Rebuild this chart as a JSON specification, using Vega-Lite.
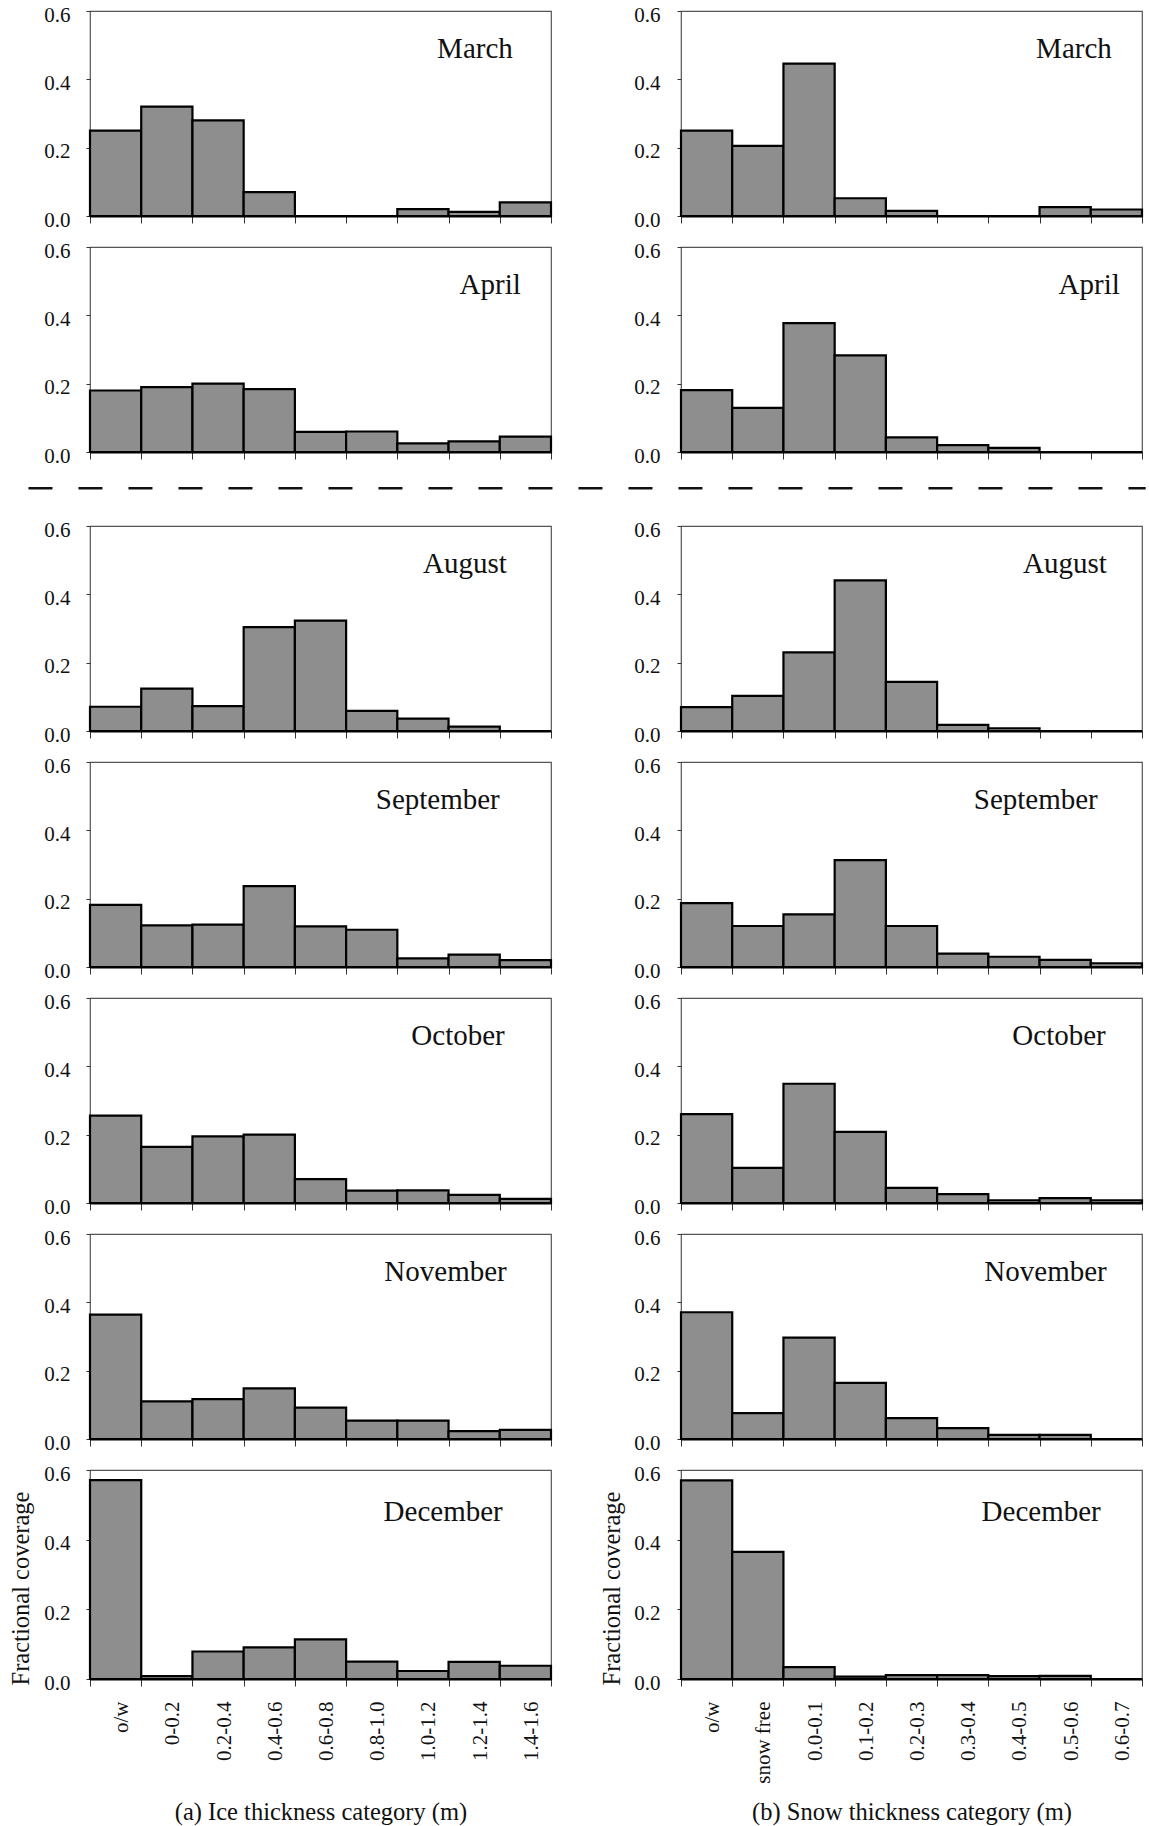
{
"$schema": "https://vega.github.io/schema/vega-lite/v6.json",
"padding": {"left": 8, "top": 3, "right": 2, "bottom": 2},
"background": "white",
"config": {
 "font": "Liberation Serif",
 "view": {"stroke": "#555", "strokeWidth": 1.2},
 "axis": {"labelFont": "Liberation Serif", "labelFontSize": 21, "labelColor": "#111", "titleFont": "Liberation Serif", "titleFontWeight": "normal", "titleColor": "#111", "grid": false, "tickColor": "#333"},
 "text": {"font": "Liberation Serif", "fontSize": 29, "color": "#111"}
},
"datasets": {"d": [
{"var":"ice","month":"March","cat":"o/w","frac":0.25},
{"var":"ice","month":"March","cat":"0-0.2","frac":0.32},
{"var":"ice","month":"March","cat":"0.2-0.4","frac":0.28},
{"var":"ice","month":"March","cat":"0.4-0.6","frac":0.07},
{"var":"ice","month":"March","cat":"0.6-0.8","frac":0},
{"var":"ice","month":"March","cat":"0.8-1.0","frac":0},
{"var":"ice","month":"March","cat":"1.0-1.2","frac":0.02},
{"var":"ice","month":"March","cat":"1.2-1.4","frac":0.012},
{"var":"ice","month":"March","cat":"1.4-1.6","frac":0.04},
{"var":"ice","month":"April","cat":"o/w","frac":0.18},
{"var":"ice","month":"April","cat":"0-0.2","frac":0.19},
{"var":"ice","month":"April","cat":"0.2-0.4","frac":0.2},
{"var":"ice","month":"April","cat":"0.4-0.6","frac":0.184},
{"var":"ice","month":"April","cat":"0.6-0.8","frac":0.059},
{"var":"ice","month":"April","cat":"0.8-1.0","frac":0.06},
{"var":"ice","month":"April","cat":"1.0-1.2","frac":0.025},
{"var":"ice","month":"April","cat":"1.2-1.4","frac":0.031},
{"var":"ice","month":"April","cat":"1.4-1.6","frac":0.045},
{"var":"ice","month":"August","cat":"o/w","frac":0.071},
{"var":"ice","month":"August","cat":"0-0.2","frac":0.124},
{"var":"ice","month":"August","cat":"0.2-0.4","frac":0.073},
{"var":"ice","month":"August","cat":"0.4-0.6","frac":0.304},
{"var":"ice","month":"August","cat":"0.6-0.8","frac":0.323},
{"var":"ice","month":"August","cat":"0.8-1.0","frac":0.059},
{"var":"ice","month":"August","cat":"1.0-1.2","frac":0.036},
{"var":"ice","month":"August","cat":"1.2-1.4","frac":0.013},
{"var":"ice","month":"August","cat":"1.4-1.6","frac":0},
{"var":"ice","month":"September","cat":"o/w","frac":0.182},
{"var":"ice","month":"September","cat":"0-0.2","frac":0.122},
{"var":"ice","month":"September","cat":"0.2-0.4","frac":0.124},
{"var":"ice","month":"September","cat":"0.4-0.6","frac":0.237},
{"var":"ice","month":"September","cat":"0.6-0.8","frac":0.119},
{"var":"ice","month":"September","cat":"0.8-1.0","frac":0.109},
{"var":"ice","month":"September","cat":"1.0-1.2","frac":0.025},
{"var":"ice","month":"September","cat":"1.2-1.4","frac":0.036},
{"var":"ice","month":"September","cat":"1.4-1.6","frac":0.02},
{"var":"ice","month":"October","cat":"o/w","frac":0.256},
{"var":"ice","month":"October","cat":"0-0.2","frac":0.164},
{"var":"ice","month":"October","cat":"0.2-0.4","frac":0.195},
{"var":"ice","month":"October","cat":"0.4-0.6","frac":0.2},
{"var":"ice","month":"October","cat":"0.6-0.8","frac":0.07},
{"var":"ice","month":"October","cat":"0.8-1.0","frac":0.036},
{"var":"ice","month":"October","cat":"1.0-1.2","frac":0.037},
{"var":"ice","month":"October","cat":"1.2-1.4","frac":0.024},
{"var":"ice","month":"October","cat":"1.4-1.6","frac":0.012},
{"var":"ice","month":"November","cat":"o/w","frac":0.364},
{"var":"ice","month":"November","cat":"0-0.2","frac":0.11},
{"var":"ice","month":"November","cat":"0.2-0.4","frac":0.117},
{"var":"ice","month":"November","cat":"0.4-0.6","frac":0.148},
{"var":"ice","month":"November","cat":"0.6-0.8","frac":0.092},
{"var":"ice","month":"November","cat":"0.8-1.0","frac":0.054},
{"var":"ice","month":"November","cat":"1.0-1.2","frac":0.054},
{"var":"ice","month":"November","cat":"1.2-1.4","frac":0.023},
{"var":"ice","month":"November","cat":"1.4-1.6","frac":0.027},
{"var":"ice","month":"December","cat":"o/w","frac":0.571},
{"var":"ice","month":"December","cat":"0-0.2","frac":0.008},
{"var":"ice","month":"December","cat":"0.2-0.4","frac":0.079},
{"var":"ice","month":"December","cat":"0.4-0.6","frac":0.091},
{"var":"ice","month":"December","cat":"0.6-0.8","frac":0.114},
{"var":"ice","month":"December","cat":"0.8-1.0","frac":0.05},
{"var":"ice","month":"December","cat":"1.0-1.2","frac":0.023},
{"var":"ice","month":"December","cat":"1.2-1.4","frac":0.049},
{"var":"ice","month":"December","cat":"1.4-1.6","frac":0.038},
{"var":"snow","month":"March","cat":"o/w","frac":0.25},
{"var":"snow","month":"March","cat":"snow free","frac":0.205},
{"var":"snow","month":"March","cat":"0.0-0.1","frac":0.446},
{"var":"snow","month":"March","cat":"0.1-0.2","frac":0.052},
{"var":"snow","month":"March","cat":"0.2-0.3","frac":0.015},
{"var":"snow","month":"March","cat":"0.3-0.4","frac":0},
{"var":"snow","month":"March","cat":"0.4-0.5","frac":0},
{"var":"snow","month":"March","cat":"0.5-0.6","frac":0.026},
{"var":"snow","month":"March","cat":"0.6-0.7","frac":0.019},
{"var":"snow","month":"April","cat":"o/w","frac":0.181},
{"var":"snow","month":"April","cat":"snow free","frac":0.129},
{"var":"snow","month":"April","cat":"0.0-0.1","frac":0.377},
{"var":"snow","month":"April","cat":"0.1-0.2","frac":0.283},
{"var":"snow","month":"April","cat":"0.2-0.3","frac":0.043},
{"var":"snow","month":"April","cat":"0.3-0.4","frac":0.02},
{"var":"snow","month":"April","cat":"0.4-0.5","frac":0.012},
{"var":"snow","month":"April","cat":"0.5-0.6","frac":0},
{"var":"snow","month":"April","cat":"0.6-0.7","frac":0},
{"var":"snow","month":"August","cat":"o/w","frac":0.07},
{"var":"snow","month":"August","cat":"snow free","frac":0.103},
{"var":"snow","month":"August","cat":"0.0-0.1","frac":0.23},
{"var":"snow","month":"August","cat":"0.1-0.2","frac":0.441},
{"var":"snow","month":"August","cat":"0.2-0.3","frac":0.144},
{"var":"snow","month":"August","cat":"0.3-0.4","frac":0.018},
{"var":"snow","month":"August","cat":"0.4-0.5","frac":0.008},
{"var":"snow","month":"August","cat":"0.5-0.6","frac":0},
{"var":"snow","month":"August","cat":"0.6-0.7","frac":0},
{"var":"snow","month":"September","cat":"o/w","frac":0.187},
{"var":"snow","month":"September","cat":"snow free","frac":0.12},
{"var":"snow","month":"September","cat":"0.0-0.1","frac":0.154},
{"var":"snow","month":"September","cat":"0.1-0.2","frac":0.313},
{"var":"snow","month":"September","cat":"0.2-0.3","frac":0.12},
{"var":"snow","month":"September","cat":"0.3-0.4","frac":0.039},
{"var":"snow","month":"September","cat":"0.4-0.5","frac":0.03},
{"var":"snow","month":"September","cat":"0.5-0.6","frac":0.021},
{"var":"snow","month":"September","cat":"0.6-0.7","frac":0.011},
{"var":"snow","month":"October","cat":"o/w","frac":0.26},
{"var":"snow","month":"October","cat":"snow free","frac":0.103},
{"var":"snow","month":"October","cat":"0.0-0.1","frac":0.349},
{"var":"snow","month":"October","cat":"0.1-0.2","frac":0.208},
{"var":"snow","month":"October","cat":"0.2-0.3","frac":0.044},
{"var":"snow","month":"October","cat":"0.3-0.4","frac":0.026},
{"var":"snow","month":"October","cat":"0.4-0.5","frac":0.008},
{"var":"snow","month":"October","cat":"0.5-0.6","frac":0.014},
{"var":"snow","month":"October","cat":"0.6-0.7","frac":0.008},
{"var":"snow","month":"November","cat":"o/w","frac":0.371},
{"var":"snow","month":"November","cat":"snow free","frac":0.076},
{"var":"snow","month":"November","cat":"0.0-0.1","frac":0.297},
{"var":"snow","month":"November","cat":"0.1-0.2","frac":0.164},
{"var":"snow","month":"November","cat":"0.2-0.3","frac":0.061},
{"var":"snow","month":"November","cat":"0.3-0.4","frac":0.032},
{"var":"snow","month":"November","cat":"0.4-0.5","frac":0.012},
{"var":"snow","month":"November","cat":"0.5-0.6","frac":0.012},
{"var":"snow","month":"November","cat":"0.6-0.7","frac":0},
{"var":"snow","month":"December","cat":"o/w","frac":0.57},
{"var":"snow","month":"December","cat":"snow free","frac":0.365},
{"var":"snow","month":"December","cat":"0.0-0.1","frac":0.034},
{"var":"snow","month":"December","cat":"0.1-0.2","frac":0.007},
{"var":"snow","month":"December","cat":"0.2-0.3","frac":0.011},
{"var":"snow","month":"December","cat":"0.3-0.4","frac":0.011},
{"var":"snow","month":"December","cat":"0.4-0.5","frac":0.008},
{"var":"snow","month":"December","cat":"0.5-0.6","frac":0.009},
{"var":"snow","month":"December","cat":"0.6-0.7","frac":0}
]},
"vconcat": [
{"hconcat": [
 {"width": 461, "height": 205, "layer": [
  {"data": {"name": "d"}, "transform": [{"filter": "datum.var === 'ice' && datum.month === 'March'"}],
   "mark": {"type": "bar", "fill": "#8e8e8e", "stroke": "#000", "strokeWidth": 2.2},
   "encoding": {"x": {"field": "cat", "type": "nominal", "sort": null, "scale": {"domain": ["o/w","0-0.2","0.2-0.4","0.4-0.6","0.6-0.8","0.8-1.0","1.0-1.2","1.2-1.4","1.4-1.6"], "padding": 0}, "axis": {"labels": false, "title": null, "tickBand": "extent", "tickSize": 7, "domainColor": "#000", "domainWidth": 2}},
    "y": {"field": "frac", "type": "quantitative", "scale": {"domain": [0, 0.6]}, "axis": {"values": [0,0.1,0.2,0.3,0.4,0.5,0.6], "format": ".1f", "labelExpr": "(datum.label === '0.1' || datum.label === '0.3' || datum.label === '0.5') ? '' : datum.label", "tickSize": 4, "labelPadding": 16, "labelOffset": 4, "domain": false, "title": null}}}},
  {"data": {"values": [{"label": "March"}]}, "mark": {"type": "text", "align": "right", "baseline": "middle", "dx": 13},
   "encoding": {"x": {"datum": "1.4-1.6", "type": "nominal", "bandPosition": 0, "scale": {"domain": ["o/w","0-0.2","0.2-0.4","0.4-0.6","0.6-0.8","0.8-1.0","1.0-1.2","1.2-1.4","1.4-1.6"], "padding": 0}}, "y": {"datum": 0.49, "type": "quantitative", "scale": {"domain": [0, 0.6]}}, "text": {"field": "label"}}}
 ]},
 {"width": 461, "height": 205, "layer": [
  {"data": {"name": "d"}, "transform": [{"filter": "datum.var === 'snow' && datum.month === 'March'"}],
   "mark": {"type": "bar", "fill": "#8e8e8e", "stroke": "#000", "strokeWidth": 2.2},
   "encoding": {"x": {"field": "cat", "type": "nominal", "sort": null, "scale": {"domain": ["o/w","snow free","0.0-0.1","0.1-0.2","0.2-0.3","0.3-0.4","0.4-0.5","0.5-0.6","0.6-0.7"], "padding": 0}, "axis": {"labels": false, "title": null, "tickBand": "extent", "tickSize": 7, "domainColor": "#000", "domainWidth": 2}},
    "y": {"field": "frac", "type": "quantitative", "scale": {"domain": [0, 0.6]}, "axis": {"values": [0,0.1,0.2,0.3,0.4,0.5,0.6], "format": ".1f", "labelExpr": "(datum.label === '0.1' || datum.label === '0.3' || datum.label === '0.5') ? '' : datum.label", "tickSize": 4, "labelPadding": 17, "labelOffset": 4, "domain": false, "title": null}}}},
  {"data": {"values": [{"label": "March"}]}, "mark": {"type": "text", "align": "right", "baseline": "middle", "dx": 21},
   "encoding": {"x": {"datum": "0.6-0.7", "type": "nominal", "bandPosition": 0, "scale": {"domain": ["o/w","snow free","0.0-0.1","0.1-0.2","0.2-0.3","0.3-0.4","0.4-0.5","0.5-0.6","0.6-0.7"], "padding": 0}}, "y": {"datum": 0.49, "type": "quantitative", "scale": {"domain": [0, 0.6]}}, "text": {"field": "label"}}}
 ]}
], "spacing": 130, "bounds": "flush"},
{"hconcat": [
 {"width": 461, "height": 205, "layer": [
  {"data": {"name": "d"}, "transform": [{"filter": "datum.var === 'ice' && datum.month === 'April'"}],
   "mark": {"type": "bar", "fill": "#8e8e8e", "stroke": "#000", "strokeWidth": 2.2},
   "encoding": {"x": {"field": "cat", "type": "nominal", "sort": null, "scale": {"domain": ["o/w","0-0.2","0.2-0.4","0.4-0.6","0.6-0.8","0.8-1.0","1.0-1.2","1.2-1.4","1.4-1.6"], "padding": 0}, "axis": {"labels": false, "title": null, "tickBand": "extent", "tickSize": 7, "domainColor": "#000", "domainWidth": 2}},
    "y": {"field": "frac", "type": "quantitative", "scale": {"domain": [0, 0.6]}, "axis": {"values": [0,0.1,0.2,0.3,0.4,0.5,0.6], "format": ".1f", "labelExpr": "(datum.label === '0.1' || datum.label === '0.3' || datum.label === '0.5') ? '' : datum.label", "tickSize": 4, "labelPadding": 16, "labelOffset": 4, "domain": false, "title": null}}}},
  {"data": {"values": [{"label": "April"}]}, "mark": {"type": "text", "align": "right", "baseline": "middle", "dx": 21},
   "encoding": {"x": {"datum": "1.4-1.6", "type": "nominal", "bandPosition": 0, "scale": {"domain": ["o/w","0-0.2","0.2-0.4","0.4-0.6","0.6-0.8","0.8-1.0","1.0-1.2","1.2-1.4","1.4-1.6"], "padding": 0}}, "y": {"datum": 0.49, "type": "quantitative", "scale": {"domain": [0, 0.6]}}, "text": {"field": "label"}}}
 ]},
 {"width": 461, "height": 205, "layer": [
  {"data": {"name": "d"}, "transform": [{"filter": "datum.var === 'snow' && datum.month === 'April'"}],
   "mark": {"type": "bar", "fill": "#8e8e8e", "stroke": "#000", "strokeWidth": 2.2},
   "encoding": {"x": {"field": "cat", "type": "nominal", "sort": null, "scale": {"domain": ["o/w","snow free","0.0-0.1","0.1-0.2","0.2-0.3","0.3-0.4","0.4-0.5","0.5-0.6","0.6-0.7"], "padding": 0}, "axis": {"labels": false, "title": null, "tickBand": "extent", "tickSize": 7, "domainColor": "#000", "domainWidth": 2}},
    "y": {"field": "frac", "type": "quantitative", "scale": {"domain": [0, 0.6]}, "axis": {"values": [0,0.1,0.2,0.3,0.4,0.5,0.6], "format": ".1f", "labelExpr": "(datum.label === '0.1' || datum.label === '0.3' || datum.label === '0.5') ? '' : datum.label", "tickSize": 4, "labelPadding": 17, "labelOffset": 4, "domain": false, "title": null}}}},
  {"data": {"values": [{"label": "April"}]}, "mark": {"type": "text", "align": "right", "baseline": "middle", "dx": 29},
   "encoding": {"x": {"datum": "0.6-0.7", "type": "nominal", "bandPosition": 0, "scale": {"domain": ["o/w","snow free","0.0-0.1","0.1-0.2","0.2-0.3","0.3-0.4","0.4-0.5","0.5-0.6","0.6-0.7"], "padding": 0}}, "y": {"datum": 0.49, "type": "quantitative", "scale": {"domain": [0, 0.6]}}, "text": {"field": "label"}}}
 ]}
], "spacing": 130, "bounds": "flush"},
{"width": 1052, "height": 35, "view": {"stroke": null},
 "data": {"values": [{"sep": "season break"}]},
 "mark": {"type": "rule", "strokeDash": [24, 26], "strokeWidth": 2.5, "color": "#111"},
 "encoding": {"x": {"datum": -0.0585, "type": "quantitative", "scale": {"domain": [0, 1]}, "axis": null}, "x2": {"datum": 1.0035}, "y": {"datum": 0.62, "type": "quantitative", "scale": {"domain": [0, 1]}, "axis": null}}},
{"hconcat": [
 {"width": 461, "height": 205, "layer": [
  {"data": {"name": "d"}, "transform": [{"filter": "datum.var === 'ice' && datum.month === 'August'"}],
   "mark": {"type": "bar", "fill": "#8e8e8e", "stroke": "#000", "strokeWidth": 2.2},
   "encoding": {"x": {"field": "cat", "type": "nominal", "sort": null, "scale": {"domain": ["o/w","0-0.2","0.2-0.4","0.4-0.6","0.6-0.8","0.8-1.0","1.0-1.2","1.2-1.4","1.4-1.6"], "padding": 0}, "axis": {"labels": false, "title": null, "tickBand": "extent", "tickSize": 7, "domainColor": "#000", "domainWidth": 2}},
    "y": {"field": "frac", "type": "quantitative", "scale": {"domain": [0, 0.6]}, "axis": {"values": [0,0.1,0.2,0.3,0.4,0.5,0.6], "format": ".1f", "labelExpr": "(datum.label === '0.1' || datum.label === '0.3' || datum.label === '0.5') ? '' : datum.label", "tickSize": 4, "labelPadding": 16, "labelOffset": 4, "domain": false, "title": null}}}},
  {"data": {"values": [{"label": "August"}]}, "mark": {"type": "text", "align": "right", "baseline": "middle", "dx": 7},
   "encoding": {"x": {"datum": "1.4-1.6", "type": "nominal", "bandPosition": 0, "scale": {"domain": ["o/w","0-0.2","0.2-0.4","0.4-0.6","0.6-0.8","0.8-1.0","1.0-1.2","1.2-1.4","1.4-1.6"], "padding": 0}}, "y": {"datum": 0.49, "type": "quantitative", "scale": {"domain": [0, 0.6]}}, "text": {"field": "label"}}}
 ]},
 {"width": 461, "height": 205, "layer": [
  {"data": {"name": "d"}, "transform": [{"filter": "datum.var === 'snow' && datum.month === 'August'"}],
   "mark": {"type": "bar", "fill": "#8e8e8e", "stroke": "#000", "strokeWidth": 2.2},
   "encoding": {"x": {"field": "cat", "type": "nominal", "sort": null, "scale": {"domain": ["o/w","snow free","0.0-0.1","0.1-0.2","0.2-0.3","0.3-0.4","0.4-0.5","0.5-0.6","0.6-0.7"], "padding": 0}, "axis": {"labels": false, "title": null, "tickBand": "extent", "tickSize": 7, "domainColor": "#000", "domainWidth": 2}},
    "y": {"field": "frac", "type": "quantitative", "scale": {"domain": [0, 0.6]}, "axis": {"values": [0,0.1,0.2,0.3,0.4,0.5,0.6], "format": ".1f", "labelExpr": "(datum.label === '0.1' || datum.label === '0.3' || datum.label === '0.5') ? '' : datum.label", "tickSize": 4, "labelPadding": 17, "labelOffset": 4, "domain": false, "title": null}}}},
  {"data": {"values": [{"label": "August"}]}, "mark": {"type": "text", "align": "right", "baseline": "middle", "dx": 16},
   "encoding": {"x": {"datum": "0.6-0.7", "type": "nominal", "bandPosition": 0, "scale": {"domain": ["o/w","snow free","0.0-0.1","0.1-0.2","0.2-0.3","0.3-0.4","0.4-0.5","0.5-0.6","0.6-0.7"], "padding": 0}}, "y": {"datum": 0.49, "type": "quantitative", "scale": {"domain": [0, 0.6]}}, "text": {"field": "label"}}}
 ]}
], "spacing": 130, "bounds": "flush"},
{"hconcat": [
 {"width": 461, "height": 205, "layer": [
  {"data": {"name": "d"}, "transform": [{"filter": "datum.var === 'ice' && datum.month === 'September'"}],
   "mark": {"type": "bar", "fill": "#8e8e8e", "stroke": "#000", "strokeWidth": 2.2},
   "encoding": {"x": {"field": "cat", "type": "nominal", "sort": null, "scale": {"domain": ["o/w","0-0.2","0.2-0.4","0.4-0.6","0.6-0.8","0.8-1.0","1.0-1.2","1.2-1.4","1.4-1.6"], "padding": 0}, "axis": {"labels": false, "title": null, "tickBand": "extent", "tickSize": 7, "domainColor": "#000", "domainWidth": 2}},
    "y": {"field": "frac", "type": "quantitative", "scale": {"domain": [0, 0.6]}, "axis": {"values": [0,0.1,0.2,0.3,0.4,0.5,0.6], "format": ".1f", "labelExpr": "(datum.label === '0.1' || datum.label === '0.3' || datum.label === '0.5') ? '' : datum.label", "tickSize": 4, "labelPadding": 16, "labelOffset": 4, "domain": false, "title": null}}}},
  {"data": {"values": [{"label": "September"}]}, "mark": {"type": "text", "align": "right", "baseline": "middle", "dx": 0},
   "encoding": {"x": {"datum": "1.4-1.6", "type": "nominal", "bandPosition": 0, "scale": {"domain": ["o/w","0-0.2","0.2-0.4","0.4-0.6","0.6-0.8","0.8-1.0","1.0-1.2","1.2-1.4","1.4-1.6"], "padding": 0}}, "y": {"datum": 0.49, "type": "quantitative", "scale": {"domain": [0, 0.6]}}, "text": {"field": "label"}}}
 ]},
 {"width": 461, "height": 205, "layer": [
  {"data": {"name": "d"}, "transform": [{"filter": "datum.var === 'snow' && datum.month === 'September'"}],
   "mark": {"type": "bar", "fill": "#8e8e8e", "stroke": "#000", "strokeWidth": 2.2},
   "encoding": {"x": {"field": "cat", "type": "nominal", "sort": null, "scale": {"domain": ["o/w","snow free","0.0-0.1","0.1-0.2","0.2-0.3","0.3-0.4","0.4-0.5","0.5-0.6","0.6-0.7"], "padding": 0}, "axis": {"labels": false, "title": null, "tickBand": "extent", "tickSize": 7, "domainColor": "#000", "domainWidth": 2}},
    "y": {"field": "frac", "type": "quantitative", "scale": {"domain": [0, 0.6]}, "axis": {"values": [0,0.1,0.2,0.3,0.4,0.5,0.6], "format": ".1f", "labelExpr": "(datum.label === '0.1' || datum.label === '0.3' || datum.label === '0.5') ? '' : datum.label", "tickSize": 4, "labelPadding": 17, "labelOffset": 4, "domain": false, "title": null}}}},
  {"data": {"values": [{"label": "September"}]}, "mark": {"type": "text", "align": "right", "baseline": "middle", "dx": 7},
   "encoding": {"x": {"datum": "0.6-0.7", "type": "nominal", "bandPosition": 0, "scale": {"domain": ["o/w","snow free","0.0-0.1","0.1-0.2","0.2-0.3","0.3-0.4","0.4-0.5","0.5-0.6","0.6-0.7"], "padding": 0}}, "y": {"datum": 0.49, "type": "quantitative", "scale": {"domain": [0, 0.6]}}, "text": {"field": "label"}}}
 ]}
], "spacing": 130, "bounds": "flush"},
{"hconcat": [
 {"width": 461, "height": 205, "layer": [
  {"data": {"name": "d"}, "transform": [{"filter": "datum.var === 'ice' && datum.month === 'October'"}],
   "mark": {"type": "bar", "fill": "#8e8e8e", "stroke": "#000", "strokeWidth": 2.2},
   "encoding": {"x": {"field": "cat", "type": "nominal", "sort": null, "scale": {"domain": ["o/w","0-0.2","0.2-0.4","0.4-0.6","0.6-0.8","0.8-1.0","1.0-1.2","1.2-1.4","1.4-1.6"], "padding": 0}, "axis": {"labels": false, "title": null, "tickBand": "extent", "tickSize": 7, "domainColor": "#000", "domainWidth": 2}},
    "y": {"field": "frac", "type": "quantitative", "scale": {"domain": [0, 0.6]}, "axis": {"values": [0,0.1,0.2,0.3,0.4,0.5,0.6], "format": ".1f", "labelExpr": "(datum.label === '0.1' || datum.label === '0.3' || datum.label === '0.5') ? '' : datum.label", "tickSize": 4, "labelPadding": 16, "labelOffset": 4, "domain": false, "title": null}}}},
  {"data": {"values": [{"label": "October"}]}, "mark": {"type": "text", "align": "right", "baseline": "middle", "dx": 5},
   "encoding": {"x": {"datum": "1.4-1.6", "type": "nominal", "bandPosition": 0, "scale": {"domain": ["o/w","0-0.2","0.2-0.4","0.4-0.6","0.6-0.8","0.8-1.0","1.0-1.2","1.2-1.4","1.4-1.6"], "padding": 0}}, "y": {"datum": 0.49, "type": "quantitative", "scale": {"domain": [0, 0.6]}}, "text": {"field": "label"}}}
 ]},
 {"width": 461, "height": 205, "layer": [
  {"data": {"name": "d"}, "transform": [{"filter": "datum.var === 'snow' && datum.month === 'October'"}],
   "mark": {"type": "bar", "fill": "#8e8e8e", "stroke": "#000", "strokeWidth": 2.2},
   "encoding": {"x": {"field": "cat", "type": "nominal", "sort": null, "scale": {"domain": ["o/w","snow free","0.0-0.1","0.1-0.2","0.2-0.3","0.3-0.4","0.4-0.5","0.5-0.6","0.6-0.7"], "padding": 0}, "axis": {"labels": false, "title": null, "tickBand": "extent", "tickSize": 7, "domainColor": "#000", "domainWidth": 2}},
    "y": {"field": "frac", "type": "quantitative", "scale": {"domain": [0, 0.6]}, "axis": {"values": [0,0.1,0.2,0.3,0.4,0.5,0.6], "format": ".1f", "labelExpr": "(datum.label === '0.1' || datum.label === '0.3' || datum.label === '0.5') ? '' : datum.label", "tickSize": 4, "labelPadding": 17, "labelOffset": 4, "domain": false, "title": null}}}},
  {"data": {"values": [{"label": "October"}]}, "mark": {"type": "text", "align": "right", "baseline": "middle", "dx": 15},
   "encoding": {"x": {"datum": "0.6-0.7", "type": "nominal", "bandPosition": 0, "scale": {"domain": ["o/w","snow free","0.0-0.1","0.1-0.2","0.2-0.3","0.3-0.4","0.4-0.5","0.5-0.6","0.6-0.7"], "padding": 0}}, "y": {"datum": 0.49, "type": "quantitative", "scale": {"domain": [0, 0.6]}}, "text": {"field": "label"}}}
 ]}
], "spacing": 130, "bounds": "flush"},
{"hconcat": [
 {"width": 461, "height": 205, "layer": [
  {"data": {"name": "d"}, "transform": [{"filter": "datum.var === 'ice' && datum.month === 'November'"}],
   "mark": {"type": "bar", "fill": "#8e8e8e", "stroke": "#000", "strokeWidth": 2.2},
   "encoding": {"x": {"field": "cat", "type": "nominal", "sort": null, "scale": {"domain": ["o/w","0-0.2","0.2-0.4","0.4-0.6","0.6-0.8","0.8-1.0","1.0-1.2","1.2-1.4","1.4-1.6"], "padding": 0}, "axis": {"labels": false, "title": null, "tickBand": "extent", "tickSize": 7, "domainColor": "#000", "domainWidth": 2}},
    "y": {"field": "frac", "type": "quantitative", "scale": {"domain": [0, 0.6]}, "axis": {"values": [0,0.1,0.2,0.3,0.4,0.5,0.6], "format": ".1f", "labelExpr": "(datum.label === '0.1' || datum.label === '0.3' || datum.label === '0.5') ? '' : datum.label", "tickSize": 4, "labelPadding": 16, "labelOffset": 4, "domain": false, "title": null}}}},
  {"data": {"values": [{"label": "November"}]}, "mark": {"type": "text", "align": "right", "baseline": "middle", "dx": 7},
   "encoding": {"x": {"datum": "1.4-1.6", "type": "nominal", "bandPosition": 0, "scale": {"domain": ["o/w","0-0.2","0.2-0.4","0.4-0.6","0.6-0.8","0.8-1.0","1.0-1.2","1.2-1.4","1.4-1.6"], "padding": 0}}, "y": {"datum": 0.49, "type": "quantitative", "scale": {"domain": [0, 0.6]}}, "text": {"field": "label"}}}
 ]},
 {"width": 461, "height": 205, "layer": [
  {"data": {"name": "d"}, "transform": [{"filter": "datum.var === 'snow' && datum.month === 'November'"}],
   "mark": {"type": "bar", "fill": "#8e8e8e", "stroke": "#000", "strokeWidth": 2.2},
   "encoding": {"x": {"field": "cat", "type": "nominal", "sort": null, "scale": {"domain": ["o/w","snow free","0.0-0.1","0.1-0.2","0.2-0.3","0.3-0.4","0.4-0.5","0.5-0.6","0.6-0.7"], "padding": 0}, "axis": {"labels": false, "title": null, "tickBand": "extent", "tickSize": 7, "domainColor": "#000", "domainWidth": 2}},
    "y": {"field": "frac", "type": "quantitative", "scale": {"domain": [0, 0.6]}, "axis": {"values": [0,0.1,0.2,0.3,0.4,0.5,0.6], "format": ".1f", "labelExpr": "(datum.label === '0.1' || datum.label === '0.3' || datum.label === '0.5') ? '' : datum.label", "tickSize": 4, "labelPadding": 17, "labelOffset": 4, "domain": false, "title": null}}}},
  {"data": {"values": [{"label": "November"}]}, "mark": {"type": "text", "align": "right", "baseline": "middle", "dx": 16},
   "encoding": {"x": {"datum": "0.6-0.7", "type": "nominal", "bandPosition": 0, "scale": {"domain": ["o/w","snow free","0.0-0.1","0.1-0.2","0.2-0.3","0.3-0.4","0.4-0.5","0.5-0.6","0.6-0.7"], "padding": 0}}, "y": {"datum": 0.49, "type": "quantitative", "scale": {"domain": [0, 0.6]}}, "text": {"field": "label"}}}
 ]}
], "spacing": 130, "bounds": "flush"},
{"hconcat": [
 {"width": 461, "height": 209, "layer": [
  {"data": {"name": "d"}, "transform": [{"filter": "datum.var === 'ice' && datum.month === 'December'"}],
   "mark": {"type": "bar", "fill": "#8e8e8e", "stroke": "#000", "strokeWidth": 2.2},
   "encoding": {"x": {"field": "cat", "type": "nominal", "sort": null, "scale": {"domain": ["o/w","0-0.2","0.2-0.4","0.4-0.6","0.6-0.8","0.8-1.0","1.0-1.2","1.2-1.4","1.4-1.6"], "padding": 0}, "axis": {"labelAngle": -90, "labelPadding": 15, "labelOffset": 6, "tickBand": "extent", "tickSize": 7, "domainColor": "#000", "domainWidth": 2, "title": "(a) Ice thickness category (m)", "titleFontSize": 24.5, "titleY": 121}},
    "y": {"field": "frac", "type": "quantitative", "scale": {"domain": [0, 0.6]}, "axis": {"values": [0,0.1,0.2,0.3,0.4,0.5,0.6], "format": ".1f", "labelExpr": "(datum.label === '0.1' || datum.label === '0.3' || datum.label === '0.5') ? '' : datum.label", "tickSize": 4, "labelPadding": 16, "labelOffset": 4, "domain": false, "title": "Fractional coverage", "titleFontSize": 24.5, "titlePadding": 10, "titleY": 118}}}},
  {"data": {"values": [{"label": "December"}]}, "mark": {"type": "text", "align": "right", "baseline": "middle", "dx": 3},
   "encoding": {"x": {"datum": "1.4-1.6", "type": "nominal", "bandPosition": 0, "scale": {"domain": ["o/w","0-0.2","0.2-0.4","0.4-0.6","0.6-0.8","0.8-1.0","1.0-1.2","1.2-1.4","1.4-1.6"], "padding": 0}}, "y": {"datum": 0.48, "type": "quantitative", "scale": {"domain": [0, 0.6]}}, "text": {"field": "label"}}}
 ]},
 {"width": 461, "height": 209, "layer": [
  {"data": {"name": "d"}, "transform": [{"filter": "datum.var === 'snow' && datum.month === 'December'"}],
   "mark": {"type": "bar", "fill": "#8e8e8e", "stroke": "#000", "strokeWidth": 2.2},
   "encoding": {"x": {"field": "cat", "type": "nominal", "sort": null, "scale": {"domain": ["o/w","snow free","0.0-0.1","0.1-0.2","0.2-0.3","0.3-0.4","0.4-0.5","0.5-0.6","0.6-0.7"], "padding": 0}, "axis": {"labelAngle": -90, "labelPadding": 15, "labelOffset": 6, "tickBand": "extent", "tickSize": 7, "domainColor": "#000", "domainWidth": 2, "title": "(b) Snow thickness category (m)", "titleFontSize": 24.5, "titleY": 121}},
    "y": {"field": "frac", "type": "quantitative", "scale": {"domain": [0, 0.6]}, "axis": {"values": [0,0.1,0.2,0.3,0.4,0.5,0.6], "format": ".1f", "labelExpr": "(datum.label === '0.1' || datum.label === '0.3' || datum.label === '0.5') ? '' : datum.label", "tickSize": 4, "labelPadding": 17, "labelOffset": 4, "domain": false, "title": "Fractional coverage", "titleFontSize": 24.5, "titlePadding": 9, "titleY": 118}}}},
  {"data": {"values": [{"label": "December"}]}, "mark": {"type": "text", "align": "right", "baseline": "middle", "dx": 10},
   "encoding": {"x": {"datum": "0.6-0.7", "type": "nominal", "bandPosition": 0, "scale": {"domain": ["o/w","snow free","0.0-0.1","0.1-0.2","0.2-0.3","0.3-0.4","0.4-0.5","0.5-0.6","0.6-0.7"], "padding": 0}}, "y": {"datum": 0.48, "type": "quantitative", "scale": {"domain": [0, 0.6]}}, "text": {"field": "label"}}}
 ]}
], "spacing": 130, "bounds": "flush"}
],
"spacing": 8
}
